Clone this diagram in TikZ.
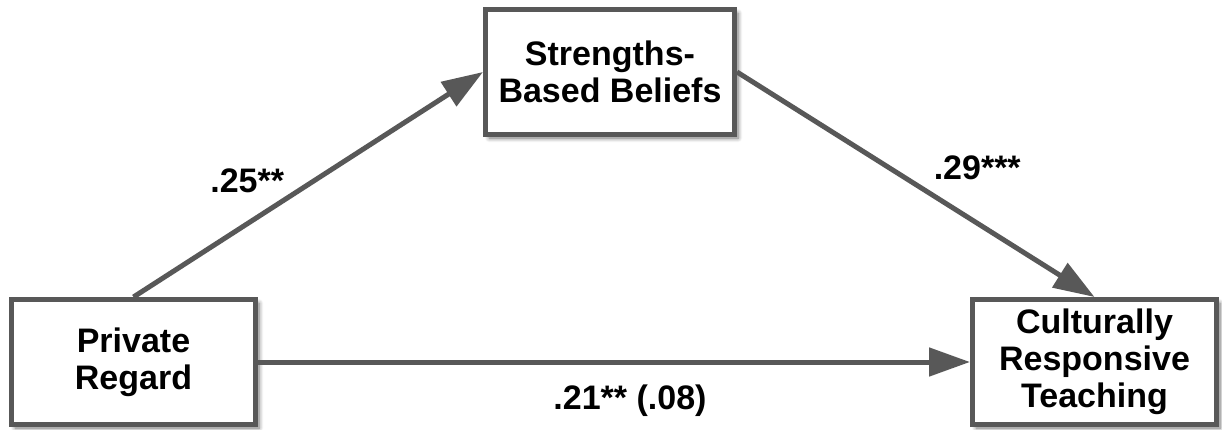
\documentclass[tikz,border=0pt]{standalone}
\usepackage{fontspec}
\setmainfont{Liberation Sans}
\usetikzlibrary{arrows.meta, positioning, calc, shadows.blur}
\definecolor{edge}{HTML}{585858}
\tikzset{
  box/.style   = {draw=edge, line width=2.5pt, fill=white, align=center,
                  font=\fontsize{17}{18.5}\selectfont\bfseries,
                  minimum width=122pt, minimum height=62.5pt, inner sep=3pt,
                  blur shadow={shadow xshift=1.8pt, shadow yshift=-1.8pt,
                               shadow blur steps=6, shadow opacity=55}},
  path/.style  = {-{Triangle[length=20.5pt,width=14pt]}, draw=edge, fill=edge,
                  line width=2.5pt},
  lbl/.style   = {font=\fontsize{17}{18.5}\selectfont\bfseries, inner sep=0pt},
}

\begin{document}
\begin{tikzpicture}

\node[box, minimum width=124.5pt] (sbb) {Strengths-\\Based Beliefs};
\node[box, below left=80pt and 112.5pt of sbb] (pr) {Private\\Regard};
\node[box, below right=80pt and 116.5pt of sbb] (crt) {Culturally\\Responsive\\Teaching};

\draw[path] (pr.north) -- node[lbl, midway, xshift=-30.5pt, yshift=2pt] (a) {.25**} (sbb.west);
\draw[path] (sbb.east) -- node[lbl, midway, xshift=30.75pt, yshift=8.5pt] (b) {.29***} (crt.north);
\draw[path] (pr.east) -- node[lbl, midway, xshift=8pt, yshift=-19.5pt] (c) {.21** (.08)} (crt.west);

\useasboundingbox ($(pr.south west)+(-4.5pt,-1pt)$) rectangle ($(crt.east |- sbb.north)+(1.5pt,3.5pt)$);

\end{tikzpicture}
\end{document}
